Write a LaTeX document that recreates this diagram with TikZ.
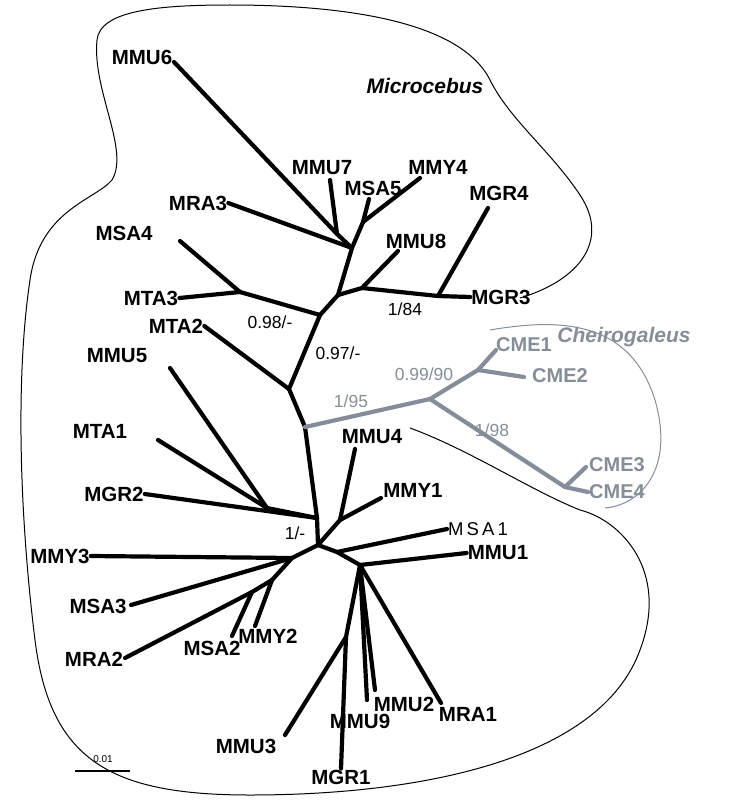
\documentclass[tikz,border=0pt]{standalone}
\usepackage{fontspec}
\setmainfont{Liberation Sans}
\begin{document}
\begin{tikzpicture}[x=1pt,y=-1pt,
  br/.style={line width=4.2pt,line cap=round,line join=round},
  gb/.style={br,draw=cg},
  lb/.style={font=\fontsize{20.5}{20.5}\selectfont\bfseries,inner sep=1pt},
  gl/.style={font=\fontsize{20}{20}\selectfont\bfseries,text=cg,inner sep=1pt},
  sl/.style={font=\fontsize{17.5}{17.5}\selectfont,inner sep=1pt},
  hull/.style={line width=1pt}]
\definecolor{cg}{HTML}{858E98}
\useasboundingbox (0,0) rectangle (731,800);
% coordinates
\coordinate (a) at (318,545);
\coordinate (b) at (305,427);
\coordinate (c) at (289,389);
\coordinate (d) at (320,315);
\coordinate (e) at (338,295);
\coordinate (f) at (362,288);
\coordinate (g) at (438,296);
\coordinate (h) at (352,248);
\coordinate (i) at (337,234);
\coordinate (j) at (363,222);
\coordinate (k) at (240,292);
\coordinate (m) at (317,518);
\coordinate (n) at (267,508);
\coordinate (p) at (340,520);
\coordinate (q) at (337,552);
\coordinate (r) at (360,565);
\coordinate (s) at (346,637);
\coordinate (t) at (292,558);
\coordinate (u) at (272,580);
\coordinate (v) at (252,592);
\coordinate (w) at (430,399);
\coordinate (x) at (478,370);
\coordinate (z) at (565,487);
% leaves
\node[lb] (MMU6) at (142,57) {MMU6};
\node[lb] (MMU7) at (322,168) {MMU7};
\node[lb] (MSA5) at (373,188) {MSA5};
\node[lb] (MMY4) at (438,167) {MMY4};
\node[lb] (MRA3) at (198,203) {MRA3};
\node[lb] (MMU8) at (416,241) {MMU8};
\node[lb] (MGR4) at (499,193) {MGR4};
\node[lb] (MGR3) at (501,297) {MGR3};
\node[lb] (MSA4) at (124,233) {MSA4};
\node[lb] (MTA3) at (151,298) {MTA3};
\node[lb] (MTA2) at (176,326) {MTA2};
\node[lb] (MMU5) at (117,356) {MMU5};
\node[lb] (MTA1) at (100,431) {MTA1};
\node[lb] (MGR2) at (114,494) {MGR2};
\node[lb] (MMU4) at (372,437) {MMU4};
\node[lb] (MMY1) at (413,490) {MMY1};
\node[font=\fontsize{18.5}{18.5}\selectfont,inner sep=1pt] (MSA1) at (478,529) {M\,S\,A\,1};
\node[lb] (MMU1) at (498,553) {MMU1};
\node[lb] (MMY3) at (60,556) {MMY3};
\node[lb] (MSA3) at (98,606) {MSA3};
\node[lb] (MSA2) at (212,648) {MSA2};
\node[lb] (MMY2) at (268,636) {MMY2};
\node[lb] (MRA2) at (94,659) {MRA2};
\node[lb] (MMU3) at (246,746) {MMU3};
\node[lb] (MGR1) at (341,777) {MGR1};
\node[lb] (MMU9) at (360,721) {MMU9};
\node[lb] (MMU2) at (404,704) {MMU2};
\node[lb] (MRA1) at (468,714) {MRA1};
\node[gl] (CME1) at (524,345) {CME1};
\node[gl] (CME2) at (560,376) {CME2};
\node[gl] (CME3) at (617,465) {CME3};
\node[gl] (CME4) at (617,492) {CME4};
% branches
\draw[br] (a)--(m)--(b)--(c)--(d)--(e)--(h)--(i)--(174,62);
\draw[br] (i)--(330,180);
\draw[br] (h)--(MRA3.east);
\draw[br] (h)--(j)--(369,199);
\draw[br] (j)--(420,178);
\draw[br] (e)--(f)--(398,251);
\draw[br] (f)--(g)--(MGR3.west);
\draw[br] (g)--(488,208);
\draw[br] (d)--(k)--(180,241);
\draw[br] (k)--(MTA3.east);
\draw[br] (c)--(MTA2.east);
\draw[br] (m)--(n)--(170,368);
\draw[br] (n)--(158,440);
\draw[br] (m)--(MGR2.east);
\draw[br] (a)--(p)--(355,449);
\draw[br] (p)--(381,498);
\draw[br] (a)--(q)--(r)--(MMU1.west);
\draw[br] (q)--(MSA1.west);
\draw[br] (r)--(s)--(MGR1.north);
\draw[br] (s)--(285,735);
\draw[br] (r)--(375,690);
\draw[br] (r)--(367,700);
\draw[br] (r)--(441,703);
\draw[br] (a)--(t)--(MMY3.east);
\draw[br] (t)--(131,605);
\draw[br] (t)--(u)--(255,626);
\draw[br] (u)--(v)--(232,636);
\draw[br] (v)--(125,658);
\draw[gb] (b)--(w)--(x)--(496,350);
\draw[gb] (x)--(524,377);
\draw[gb] (w)--(z)--(CME4.west);
\draw[gb] (z)--(586,467);
% support values
\node[sl] (s1) at (270,322) {0.98/-};
\node[sl] (s2) at (338,353) {0.97/-};
\node[sl] (s3) at (405,309) {1/84};
\node[sl] (s4) at (295,533) {1/-};
\node[sl,text=cg] (s5) at (424,374) {0.99/90};
\node[sl,text=cg] (s6) at (351,401) {1/95};
\node[sl,text=cg] (s7) at (492,430) {1/98};
% titles
\node[font=\fontsize{21}{21}\selectfont\bfseries\itshape] (T1) at (425,86) {Microcebus};
\node[font=\fontsize{21}{21}\selectfont\bfseries\itshape,text=cg] (T2) at (624,337) {Cheirogaleus};
% hulls
\draw[hull] (520,298) .. controls (580,280) and (610,240) .. (580,195)
  .. controls (550,150) and (510,120) .. (490,80)
  .. controls (460,20) and (340,5) .. (230,5)
  .. controls (160,5) and (100,10) .. (97,40)
  .. controls (92,90) and (130,150) .. (112,180)
  .. controls (95,200) and (40,210) .. (30,280)
  .. controls (15,380) and (20,520) .. (35,640)
  .. controls (50,760) and (110,795) .. (250,795)
  .. controls (420,795) and (600,760) .. (640,650)
  .. controls (670,570) and (620,520) .. (580,510)
  .. controls (530,490) and (470,450) .. (410,428);
\draw[hull,draw=cg] (490,330) .. controls (560,318) and (630,320) .. (655,400)
  .. controls (675,470) and (640,505) .. (605,508);
% scale bar
\draw[line width=1.8pt] (75,771) coordinate (sb1) -- (130,771) coordinate (sb2);
\node[font=\fontsize{10}{10}\selectfont] (sbl) at (103,759) {0.01};
\end{tikzpicture}
\end{document}
